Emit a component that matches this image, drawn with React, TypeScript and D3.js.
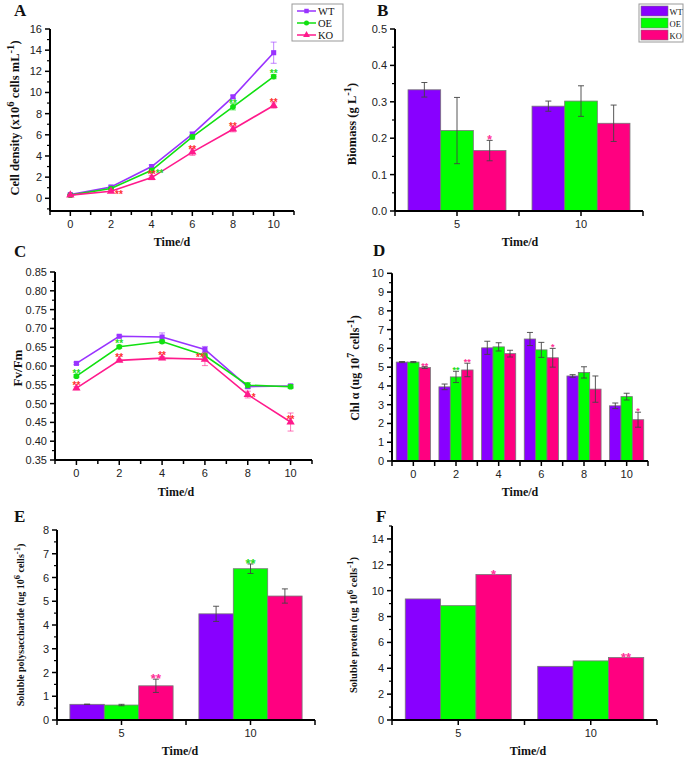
import React from 'react';
import * as d3 from 'd3';

// ---------- DATA ----------
const days = [0, 2, 4, 6, 8, 10];
const seriesNames = ['WT', 'OE', 'KO'];

// A: cell density (x10^6 cells/mL)
const cellWT = [0.35, 1.07, 3.0, 6.06, 9.59, 13.76];
const cellOE = [0.3, 0.92, 2.65, 5.8, 8.65, 11.5];
const cellKO = [0.3, 0.66, 1.96, 4.36, 6.53, 8.77];
const cellErrWT = [0.05, 0.1, 0.15, 0.2, 0.15, 1.0];
const cellErrOE = [0.05, 0.1, 0.15, 0.2, 0.3, 0.2];
const cellErrKO = [0.05, 0.1, 0.2, 0.3, 0.25, 0.25];

// B: biomass (g/L)
const timeCats = ['5', '10'];
const bioWT = [0.333, 0.288];
const bioOE = [0.221, 0.302];
const bioKO = [0.166, 0.241];
const bioErrWT = [0.02, 0.014];
const bioErrOE = [0.091, 0.042];
const bioErrKO = [0.028, 0.05];

// C: Fv/Fm
const fvWT = [0.607, 0.679, 0.677, 0.644, 0.545, 0.547];
const fvOE = [0.573, 0.651, 0.665, 0.628, 0.549, 0.545];
const fvKO = [0.541, 0.615, 0.621, 0.618, 0.524, 0.451];
const fvErrWT = [0.003, 0.003, 0.011, 0.008, 0.005, 0.004];
const fvErrOE = [0.004, 0.004, 0.004, 0.006, 0.007, 0.005];
const fvErrKO = [0.004, 0.003, 0.004, 0.017, 0.009, 0.024];

// D: Chl a (ug 10^7 cells^-1)
const dayCats = ['0', '2', '4', '6', '8', '10'];
const chlWT = [5.27, 3.95, 6.03, 6.5, 4.53, 2.94];
const chlOE = [5.27, 4.48, 6.08, 5.92, 4.72, 3.43];
const chlKO = [4.98, 4.85, 5.72, 5.5, 3.83, 2.2];
const chlErrWT = [0.03, 0.15, 0.35, 0.35, 0.07, 0.15];
const chlErrOE = [0.03, 0.3, 0.22, 0.4, 0.3, 0.18];
const chlErrKO = [0.05, 0.36, 0.18, 0.5, 0.7, 0.4];

// E: soluble polysaccharide
const polyWT = [0.66, 4.47];
const polyOE = [0.63, 6.37];
const polyKO = [1.44, 5.22];
const polyErrWT = [0.01, 0.32];
const polyErrOE = [0.03, 0.2];
const polyErrKO = [0.28, 0.3];

// F: soluble protein
const protWT = [9.36, 4.15];
const protOE = [8.84, 4.57];
const protKO = [11.25, 4.83];

// tick values
const ticksA_y = [0, 2, 4, 6, 8, 10, 12, 14, 16];
const ticksB_y = [0.0, 0.1, 0.2, 0.3, 0.4, 0.5];
const ticksC_y = [0.35, 0.4, 0.45, 0.5, 0.55, 0.6, 0.65, 0.7, 0.75, 0.8, 0.85];
const ticksD_y = [0, 1, 2, 3, 4, 5, 6, 7, 8, 9, 10];
const ticksE_y = [0, 1, 2, 3, 4, 5, 6, 7, 8];
const ticksF_y = [0, 2, 4, 6, 8, 10, 12, 14];
const ticksDay_x = [0, 2, 4, 6, 8, 10];

// significance marks: series, index, text, side
const starsA = [
  { s: 2, i: 1, t: '**', side: 'right' },
  { s: 1, i: 2, t: '**', side: 'right' },
  { s: 2, i: 2, t: '**', side: 'above' },
  { s: 2, i: 3, t: '**', side: 'above' },
  { s: 1, i: 4, t: '**', side: 'above' },
  { s: 2, i: 4, t: '**', side: 'above' },
  { s: 1, i: 5, t: '**', side: 'above' },
  { s: 2, i: 5, t: '**', side: 'above' },
];
const starsC = [
  { s: 1, i: 0, t: '**', side: 'above' },
  { s: 2, i: 0, t: '**', side: 'above' },
  { s: 1, i: 1, t: '**', side: 'above' },
  { s: 2, i: 1, t: '**', side: 'above' },
  { s: 2, i: 2, t: '**', side: 'above' },
  { s: 2, i: 3, t: '**', side: 'left' },
  { s: 2, i: 4, t: '*', side: 'right' },
  { s: 2, i: 5, t: '**', side: 'above' },
];
const starsB = [{ s: 2, i: 0, t: '*' }];
const starsD = [
  { s: 2, i: 0, t: '**' },
  { s: 1, i: 1, t: '**' },
  { s: 2, i: 1, t: '**' },
  { s: 2, i: 3, t: '*' },
  { s: 2, i: 5, t: '*' },
];
const starsE = [
  { s: 2, i: 0, t: '**' },
  { s: 1, i: 1, t: '**' },
];
const starsF = [
  { s: 2, i: 0, t: '*' },
  { s: 2, i: 1, t: '**' },
];

// ---------- STYLE ----------
const BAR_COLORS = ['#8800ff', '#00ff00', '#ff0080'];
const LINE_COLORS = ['#9933ff', '#11e011', '#ff1a8c'];
const LINE_STAR_COLORS = ['#9933ff', '#22dd22', '#ff3030'];
const BAR_STAR_COLORS = ['#8800ff', '#22dd22', '#ff3399'];
const SANS = '"Liberation Sans", Arial, sans-serif';
const SERIF = '"Liberation Serif", "Times New Roman", serif';

type Sup = { text: string; sup?: boolean };

function LabelText({ parts, x, y, size, rotate }: { parts: Sup[]; x: number; y: number; size: number; rotate?: boolean }) {
  let shifted = false;
  return (
    <text
      transform={`translate(${x},${y})${rotate ? ' rotate(-90)' : ''}`}
      textAnchor="middle"
      fontFamily={SERIF}
      fontWeight="bold"
      fontSize={size}
      fill="#111"
    >
      {parts.map((p, k) => {
        let dy = 0;
        if (p.sup && !shifted) { dy = -size * 0.42; shifted = true; }
        else if (!p.sup && shifted) { dy = size * 0.42; shifted = false; }
        return (
          <tspan key={k} dy={dy} fontSize={p.sup ? size * 0.85 : size}>{p.text}</tspan>
        );
      })}
    </text>
  );
}

function YAxis({ y, x0, majors, minors, fmt, bottom }: any) {
  const [r0, r1] = y.range();
  return (
    <g>
      <line x1={x0} x2={x0} y1={bottom ?? r0} y2={r1} stroke="#000" strokeWidth={2} />
      {majors.map((v: number) => (
        <g key={'M' + v}>
          <line x1={x0 - 5} x2={x0} y1={y(v)} y2={y(v)} stroke="#000" strokeWidth={1.5} />
          <text x={x0 - 8} y={y(v) + 4} textAnchor="end" fontFamily={SANS} fontSize={11} fill="#222">{fmt(v)}</text>
        </g>
      ))}
      {minors.map((v: number) => (
        <line key={'m' + v} x1={x0 - 3} x2={x0} y1={y(v)} y2={y(v)} stroke="#000" strokeWidth={1.2} />
      ))}
    </g>
  );
}

function LinePanel({ cfg }: any) {
  const x = d3.scaleLinear().domain(cfg.xDomain).range(cfg.xRange);
  const y = d3.scaleLinear().domain(cfg.yDomain).range(cfg.yRange);
  const axisY = cfg.yRange[0];
  const line = d3.line<number>().x((_, i) => x(days[i])).y((d) => y(d));
  const syms = [d3.symbolSquare, d3.symbolCircle, d3.symbolTriangle];
  const symSize = [26, 26, 30];
  const xTicksAll = d3.range(cfg.xDomain[0], cfg.xDomain[1] + 0.5, 1);
  return (
    <g>
      {/* axes */}
      <YAxis y={y} x0={cfg.xRange[0]} majors={cfg.yMajors} minors={cfg.yMinors} fmt={cfg.yFmt} bottom={axisY} />
      <line x1={cfg.xRange[0]} x2={cfg.xRange[1]} y1={axisY} y2={axisY} stroke="#000" strokeWidth={2} />
      {xTicksAll.map((v: number) => {
        const major = ticksDay_x.includes(v);
        return (
          <g key={v}>
            <line x1={x(v)} x2={x(v)} y1={axisY} y2={axisY + (major ? 5 : 4)} stroke="#000" strokeWidth={1.5} />
            {major && (
              <text x={x(v)} y={axisY + 17} textAnchor="middle" fontFamily={SANS} fontSize={11} fill="#222">{v}</text>
            )}
          </g>
        );
      })}
      {/* series */}
      {cfg.series.map((vals: number[], s: number) => (
        <g key={s}>
          <path d={line(vals) as string} fill="none" stroke={LINE_COLORS[s]} strokeWidth={1.6} />
          {vals.map((v, i) => {
            const e = cfg.errs[s][i];
            return (
              <g key={i} stroke={LINE_COLORS[s]} strokeOpacity={0.6} strokeWidth={1}>
                <line x1={x(days[i])} x2={x(days[i])} y1={y(v - e)} y2={y(v + e)} />
                <line x1={x(days[i]) - 3} x2={x(days[i]) + 3} y1={y(v - e)} y2={y(v - e)} />
                <line x1={x(days[i]) - 3} x2={x(days[i]) + 3} y1={y(v + e)} y2={y(v + e)} />
              </g>
            );
          })}
          {vals.map((v, i) => (
            <path
              key={'p' + i}
              transform={`translate(${x(days[i])},${y(v)})`}
              d={d3.symbol().type(syms[s]).size(symSize[s])() as string}
              fill={LINE_COLORS[s]}
            />
          ))}
        </g>
      ))}
      {/* stars */}
      {cfg.stars.map((st: any, k: number) => {
        const v = cfg.series[st.s][st.i];
        const cx = x(days[st.i]);
        const cy = y(v);
        let tx = cx, ty = cy - 5, anchor = 'middle';
        if (st.side === 'right') { tx = cx + 4; ty = cy + 1; anchor = 'start'; }
        if (st.side === 'left') { tx = cx - 1; ty = cy - 4; anchor = 'end'; }
        return (
          <text key={k} x={tx} y={ty + 5.5} textAnchor={anchor} fontFamily={SANS} fontWeight="bold" fontSize={10} fill={LINE_STAR_COLORS[st.s]}>{st.t}</text>
        );
      })}
    </g>
  );
}

function BarPanel({ cfg }: any) {
  const x0 = d3.scaleBand().domain(cfg.cats).range(cfg.xRange).paddingInner(cfg.pad).paddingOuter(cfg.pad / 2);
  const full = d3.scaleBand().domain(cfg.cats).range(cfg.xRange);
  const x1 = d3.scaleBand().domain(seriesNames).range([0, x0.bandwidth()]);
  const y = d3.scaleLinear().domain(cfg.yDomain).range(cfg.yRange);
  const axisY = cfg.yRange[0];
  const tickXs: number[] = [];
  cfg.cats.forEach((c: string, i: number) => {
    if (i === 0) tickXs.push(full(c) as number);
    tickXs.push((full(c) as number) + full.step());
  });
  return (
    <g>
      {cfg.series.map((vals: number[], s: number) => (
        <g key={s}>
          {vals.map((v, i) => {
            const bx = (x0(cfg.cats[i]) as number) + (x1(seriesNames[s]) as number);
            return (
              <rect key={i} x={bx} y={y(v)} width={x1.bandwidth()} height={axisY - y(v)} fill={BAR_COLORS[s]} stroke="#777" strokeWidth={0.8} />
            );
          })}
        </g>
      ))}
      {cfg.errs && cfg.series.map((vals: number[], s: number) => (
        <g key={'e' + s} stroke="#444" strokeWidth={0.9}>
          {vals.map((v, i) => {
            const e = cfg.errs[s][i];
            const cx = (x0(cfg.cats[i]) as number) + (x1(seriesNames[s]) as number) + x1.bandwidth() / 2;
            return (
              <g key={i}>
                <line x1={cx} x2={cx} y1={y(v - e)} y2={y(v + e)} />
                <line x1={cx - 3} x2={cx + 3} y1={y(v - e)} y2={y(v - e)} />
                <line x1={cx - 3} x2={cx + 3} y1={y(v + e)} y2={y(v + e)} />
              </g>
            );
          })}
        </g>
      ))}
      {cfg.stars.map((st: any, k: number) => {
        const v = cfg.series[st.s][st.i];
        const e = cfg.errs ? cfg.errs[st.s][st.i] : 0;
        const cx = (x0(cfg.cats[st.i]) as number) + (x1(seriesNames[st.s]) as number) + x1.bandwidth() / 2;
        const top = y(v + e);
        return (
          <text key={k} x={cx} y={top - 3 + cfg.starSize * 0.55} textAnchor="middle" fontFamily={SANS} fontWeight="bold" fontSize={cfg.starSize} fill={BAR_STAR_COLORS[st.s]}>{st.t}</text>
        );
      })}
      <YAxis y={y} x0={cfg.xRange[0]} majors={cfg.yMajors} minors={cfg.yMinors} fmt={cfg.yFmt} />
      <line x1={cfg.xRange[0]} x2={cfg.xRange[1]} y1={axisY} y2={axisY} stroke="#000" strokeWidth={2} />
      {tickXs.map((tx, k) => (
        <line key={'t' + k} x1={tx} x2={tx} y1={axisY} y2={axisY + 5} stroke="#000" strokeWidth={1.5} />
      ))}
      {cfg.cats.map((c: string) => {
        const cx = (full(c) as number) + full.bandwidth() / 2;
        return (
          <g key={c}>
            <line x1={cx} x2={cx} y1={axisY} y2={axisY + 5} stroke="#000" strokeWidth={1.5} />
            <text x={cx} y={axisY + 17} textAnchor="middle" fontFamily={SANS} fontSize={11} fill="#222">{c}</text>
          </g>
        );
      })}
    </g>
  );
}

function PanelLetter({ x, y, t }: { x: number; y: number; t: string }) {
  return <text x={x} y={y} fontFamily={SERIF} fontWeight="bold" fontSize={17} fill="#111">{t}</text>;
}

const oddRange = (a: number, b: number, st: number) => d3.range(a, b + 1e-9, st);

export default function App() {
  const cfgA = {
    xDomain: [-1, 11], xRange: [50, 294], yDomain: [-1.2, 16], yRange: [211, 29],
    yMajors: ticksA_y, yMinors: oddRange(-1, 15, 2), yFmt: (v: number) => String(v),
    series: [cellWT, cellOE, cellKO], errs: [cellErrWT, cellErrOE, cellErrKO], stars: starsA,
  };
  const cfgC = {
    xDomain: [-1, 11], xRange: [55, 312], yDomain: [0.35, 0.85], yRange: [460, 272],
    yMajors: ticksC_y, yMinors: oddRange(0.375, 0.825, 0.05), yFmt: d3.format('.2f'),
    series: [fvWT, fvOE, fvKO], errs: [fvErrWT, fvErrOE, fvErrKO], stars: starsC,
  };
  const cfgB = {
    cats: timeCats, xRange: [395, 643], pad: 0.21, yDomain: [0, 0.5], yRange: [211, 29],
    yMajors: ticksB_y, yMinors: oddRange(0.05, 0.45, 0.1), yFmt: d3.format('.1f'),
    series: [bioWT, bioOE, bioKO], errs: [bioErrWT, bioErrOE, bioErrKO], stars: starsB, starSize: 12,
  };
  const cfgD = {
    cats: dayCats, xRange: [392, 648], pad: 0.2, yDomain: [0, 10], yRange: [461, 273.3],
    yMajors: ticksD_y, yMinors: oddRange(0.5, 9.5, 1), yFmt: (v: number) => String(v),
    series: [chlWT, chlOE, chlKO], errs: [chlErrWT, chlErrOE, chlErrKO], stars: starsD, starSize: 9,
  };
  const cfgE = {
    cats: timeCats, xRange: [57, 315], pad: 0.2, yDomain: [0, 8], yRange: [720, 530],
    yMajors: ticksE_y, yMinors: oddRange(0.5, 7.5, 1), yFmt: (v: number) => String(v),
    series: [polyWT, polyOE, polyKO], errs: [polyErrWT, polyErrOE, polyErrKO], stars: starsE, starSize: 13,
  };
  const cfgF = {
    cats: timeCats, xRange: [392, 657], pad: 0.2, yDomain: [0, 15], yRange: [720, 526],
    yMajors: ticksF_y, yMinors: oddRange(1, 15, 2), yFmt: (v: number) => String(v),
    series: [protWT, protOE, protKO], errs: null, stars: starsF, starSize: 13,
  };

  const syms = [d3.symbolSquare, d3.symbolCircle, d3.symbolTriangle];

  return (
    <svg width={685} height={757} style={{ position: 'absolute', left: 0, top: 0, background: '#fff' }}>
      <rect width={685} height={757} fill="#fff" />
      <PanelLetter x={14} y={16} t="A" />
      <PanelLetter x={377} y={16} t="B" />
      <PanelLetter x={14} y={257} t="C" />
      <PanelLetter x={373} y={256} t="D" />
      <PanelLetter x={14} y={522} t="E" />
      <PanelLetter x={376} y={522} t="F" />

      <LinePanel cfg={cfgA} />
      <LinePanel cfg={cfgC} />
      <BarPanel cfg={cfgB} />
      <BarPanel cfg={cfgD} />
      <BarPanel cfg={cfgE} />
      <BarPanel cfg={cfgF} />

      {/* axis titles */}
      <LabelText rotate x={19} y={118} size={12.5} parts={[{ text: 'Cell density (x10' }, { text: '6', sup: true }, { text: ' cells mL' }, { text: '-1', sup: true }, { text: ')' }]} />
      <LabelText rotate x={356} y={124} size={12.5} parts={[{ text: 'Biomass (g L' }, { text: '-1', sup: true }, { text: ')' }]} />
      <LabelText rotate x={22} y={368} size={13} parts={[{ text: 'Fv/Fm' }]} />
      <LabelText rotate x={359} y={368} size={12} parts={[{ text: 'Chl α (ug 10' }, { text: '7', sup: true }, { text: ' cells' }, { text: '-1', sup: true }, { text: ')' }]} />
      <LabelText rotate x={24} y={625} size={10} parts={[{ text: 'Soluble polysaccharide (ug 10' }, { text: '6', sup: true }, { text: ' cells' }, { text: '-1', sup: true }, { text: ')' }]} />
      <LabelText rotate x={357} y={625} size={10.5} parts={[{ text: 'Soluble protein (ug 10' }, { text: '6', sup: true }, { text: ' cells' }, { text: '-1', sup: true }, { text: ')' }]} />

      <LabelText x={172} y={246} size={12} parts={[{ text: 'Time/d' }]} />
      <LabelText x={520} y={246} size={12} parts={[{ text: 'Time/d' }]} />
      <LabelText x={176} y={496} size={12} parts={[{ text: 'Time/d' }]} />
      <LabelText x={520} y={496} size={12} parts={[{ text: 'Time/d' }]} />
      <LabelText x={180} y={755} size={12} parts={[{ text: 'Time/d' }]} />
      <LabelText x={528} y={755} size={12} parts={[{ text: 'Time/d' }]} />

      {/* Legend A */}
      <g>
        <rect x={292} y={4} width={51} height={37} fill="#fff" stroke="#999" strokeWidth={1} />
        {seriesNames.map((n, s) => (
          <g key={n} transform={`translate(0,${11 + s * 12})`}>
            <line x1={297} x2={316} y1={0} y2={0} stroke={LINE_COLORS[s]} strokeWidth={1.5} />
            <path transform="translate(306.5,0)" d={d3.symbol().type(syms[s]).size(20)() as string} fill={LINE_COLORS[s]} />
            <text x={318} y={4} fontFamily={SERIF} fontSize={10.5} fill="#111">{n}</text>
          </g>
        ))}
      </g>
      {/* Legend B */}
      <g>
        <rect x={639} y={4} width={44} height={38} fill="#fff" stroke="#999" strokeWidth={1} />
        {seriesNames.map((n, s) => (
          <g key={n} transform={`translate(0,${6 + s * 12})`}>
            <rect x={641} y={0} width={27} height={10} fill={BAR_COLORS[s]} stroke="#777" strokeWidth={0.6} />
            <text x={669.5} y={8.5} fontFamily={SERIF} fontSize={8.5} fill="#111">{n}</text>
          </g>
        ))}
      </g>
    </svg>
  );
}
